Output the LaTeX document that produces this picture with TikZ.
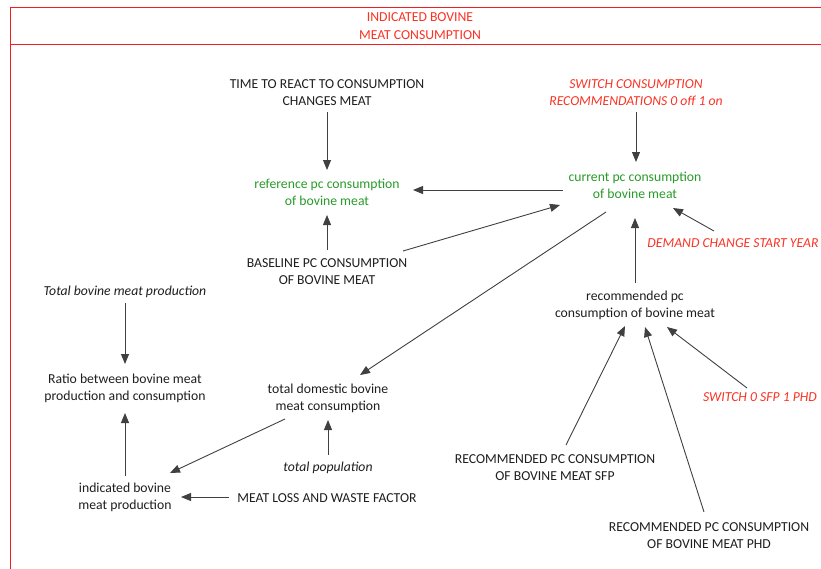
\documentclass[tikz,border=0pt]{standalone}
\usepackage{fontspec}
\setmainfont{Carlito}
\usetikzlibrary{arrows.meta}
\definecolor{vgreen}{RGB}{40,155,40}
\definecolor{vred}{RGB}{250,50,35}
\definecolor{frame}{RGB}{240,30,30}
\definecolor{ink}{RGB}{30,30,30}
\tikzset{
  lbl/.style={align=center,inner sep=0pt,text=ink,font=\fontsize{13.7}{17.5}\selectfont},
  glbl/.style={lbl,text=vgreen},
  rlbl/.style={lbl,text=vred,font=\fontsize{13.7}{17.5}\selectfont\itshape},
  ilbl/.style={lbl,font=\fontsize{13.7}{17.5}\selectfont\itshape},
  arr/.style={draw=ink!85,line width=0.9pt,-{Triangle[length=10pt,width=8pt]}}
}
\begin{document}
\begin{tikzpicture}[x=1pt,y=-1pt]
\useasboundingbox (0,0) rectangle (821,568);
\clip (0,0) rectangle (821,568);
\draw[frame,line width=1pt] (10,7) rectangle (830,580);
\draw[frame,line width=1pt] (10,44) -- (830,44);
\node[lbl,text=vred] (title) at (420,26) {INDICATED BOVINE\\MEAT CONSUMPTION};

\node[lbl] (time) at (327,92.5) {TIME TO REACT TO CONSUMPTION\\CHANGES MEAT};
\node[glbl] (ref) at (327,192.5) {reference pc consumption\\of bovine meat};
\node[lbl] (base) at (327,271.5) {BASELINE PC CONSUMPTION\\OF BOVINE MEAT};
\node[rlbl] (sw) at (636,92.5) {SWITCH CONSUMPTION\\RECOMMENDATIONS 0 off 1 on};
\node[glbl] (cur) at (635,185.5) {current pc consumption\\of bovine meat};
\node[rlbl] (dem) at (733,243.5) {DEMAND CHANGE START YEAR};
\node[lbl] (rec) at (635,305.5) {recommended pc\\consumption of bovine meat};
\node[rlbl] (swb) at (760,397.5) {SWITCH 0 SFP 1 PHD};
\node[lbl] (sfp) at (555,467.5) {RECOMMENDED PC CONSUMPTION\\OF BOVINE MEAT SFP};
\node[lbl] (phd) at (709,535.5) {RECOMMENDED PC CONSUMPTION\\OF BOVINE MEAT PHD};
\node[ilbl] (tbp) at (125,291.5) {Total bovine meat production};
\node[lbl] (ratio) at (125,388.5) {Ratio between bovine meat\\production and consumption};
\node[lbl] (tdc) at (328,398.5) {total domestic bovine\\meat consumption};
\node[ilbl] (pop) at (328,467.5) {total population};
\node[lbl] (ind) at (125,497.5) {indicated bovine\\meat production};
\node[lbl] (loss) at (327,498.5) {MEAT LOSS AND WASTE FACTOR};

\draw[arr] ([shift={(0,19.5)}]time.center) -- ([shift={(0,-22.5)}]ref.center);
\draw[arr] ([shift={(0,-21.5)}]base.center) -- ([shift={(0,22.5)}]ref.center);
\draw[arr] ([shift={(-72,4.5)}]cur.center) -- ([shift={(86,-2.5)}]ref.center);
\draw[arr] ([shift={(76,-20.5)}]base.center) -- ([shift={(-75,19.5)}]cur.center);
\draw[arr] ([shift={(0,19.5)}]sw.center) -- ([shift={(1,-23.5)}]cur.center);
\draw[arr] ([shift={(-19,-12.5)}]dem.center) -- ([shift={(38,22.5)}]cur.center);
\draw[arr] ([shift={(0,-22.5)}]rec.center) -- ([shift={(0,32.5)}]cur.center);
\draw[arr] ([shift={(-29,26.5)}]cur.center) -- ([shift={(32,-23.5)}]tdc.center);
\draw[arr] ([shift={(11,-22.5)}]sfp.center) -- ([shift={(-10,20.5)}]rec.center);
\draw[arr] ([shift={(-5,-23.5)}]phd.center) -- ([shift={(10,21.5)}]rec.center);
\draw[arr] ([shift={(-13,-9.5)}]swb.center) -- ([shift={(32,21.5)}]rec.center);
\draw[arr] ([shift={(0,11.5)}]tbp.center) -- ([shift={(0,-24.5)}]ratio.center);
\draw[arr] ([shift={(0,-21.5)}]ind.center) -- ([shift={(0,24.5)}]ratio.center);
\draw[arr] ([shift={(-43,20.5)}]tdc.center) -- ([shift={(45,-24.5)}]ind.center);
\draw[arr] ([shift={(0,-12.5)}]pop.center) -- ([shift={(0,21.5)}]tdc.center);
\draw[arr] ([shift={(-98,-1.5)}]loss.center) -- ([shift={(56,-0.5)}]ind.center);
\end{tikzpicture}
\end{document}
